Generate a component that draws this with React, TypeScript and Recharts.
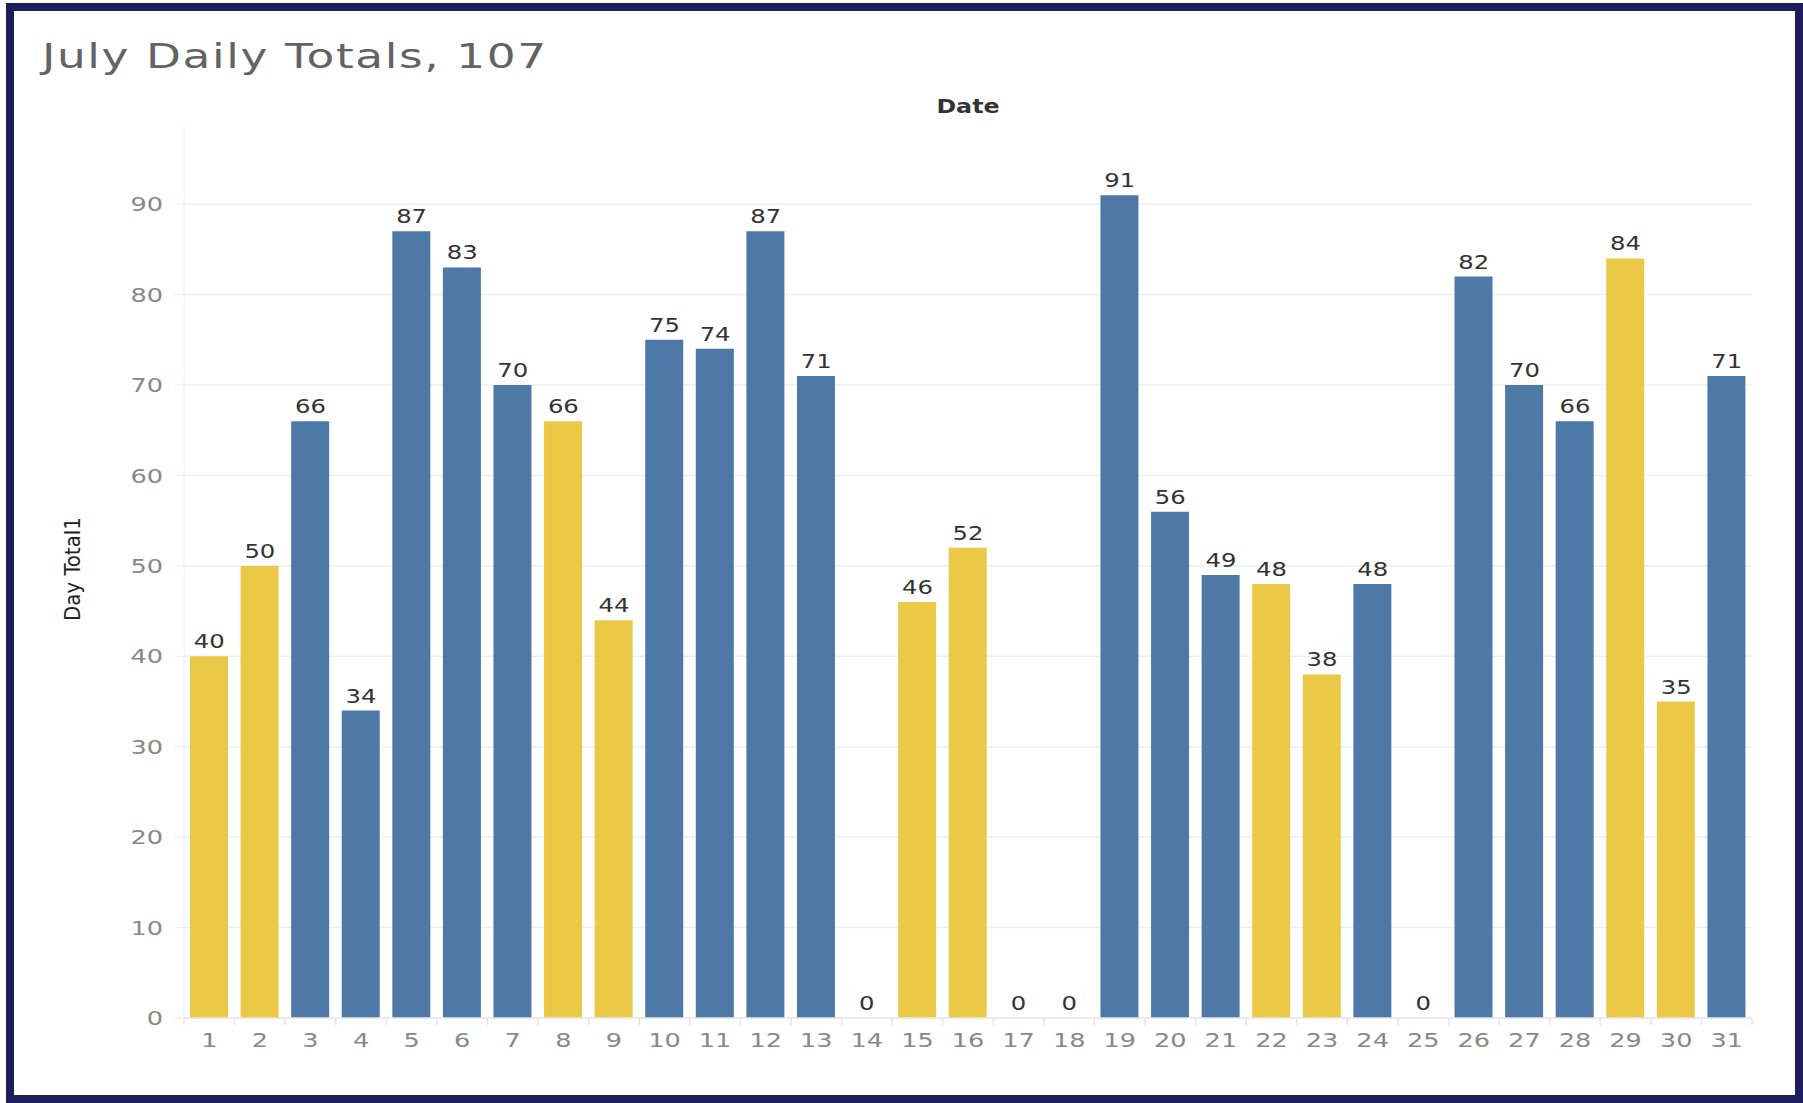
import { ComposedChart, Bar, Line, XAxis, YAxis, CartesianGrid, Cell, LabelList } from 'recharts';

// July, one bar per day; weekends in yellow
const DAYS = [
  '1', '2', '3', '4', '5', '6', '7', '8', '9', '10', '11', '12', '13', '14', '15', '16',
  '17', '18', '19', '20', '21', '22', '23', '24', '25', '26', '27', '28', '29', '30', '31',
];
const TOTALS = [
  40, 50, 66, 34, 87, 83, 70, 66, 44, 75, 74, 87, 71, 0, 46, 52,
  0, 0, 91, 56, 49, 48, 38, 48, 0, 82, 70, 66, 84, 35, 71,
];
const WEEKEND = [
  true, true, false, false, false, false, false, true, true, false, false, false, false, false, true, true,
  false, false, false, false, false, true, true, false, false, false, false, false, true, true, false,
];
const Y_TICKS = [0, 10, 20, 30, 40, 50, 60, 70, 80, 90];
const Y_MAX = 99.2;

const BLUE = '#4e79a7';
const YELLOW = '#ebc846';
const FONT = '"DejaVu Sans", "Open Sans", sans-serif';
const STRETCH = 1.28; // the source text is drawn wide
const PLOT_TOP = 121;
const HALF_BAND = 1568 / 31 / 2;

const data = DAYS.map((day, i) => ({ day, total: TOTALS[i], weekend: WEEKEND[i] }));

function XTick(props: any) {
  const { x, y, payload, index } = props;
  return (
    <g>
      <line x1={x - HALF_BAND} x2={x - HALF_BAND} y1={y - 15} y2={y - 8} stroke="#e4e4e4" strokeWidth={1.5} />
      {index === DAYS.length - 1 && (
        <line x1={x + HALF_BAND} x2={x + HALF_BAND} y1={y - 15} y2={y - 8} stroke="#e4e4e4" strokeWidth={1.5} />
      )}
      <text
        transform={`translate(${x},${y}) scale(${STRETCH},1)`}
        dy="0.71em"
        textAnchor="middle"
        fill="#888"
        fontSize={20}
        fontFamily={FONT}
      >
        {payload.value}
      </text>
    </g>
  );
}

function YTick(props: any) {
  const { x, y, payload } = props;
  return (
    <text
      transform={`translate(${x},${y}) scale(${STRETCH},1)`}
      dy="0.355em"
      textAnchor="end"
      fill="#888"
      fontSize={20}
      fontFamily={FONT}
    >
      {payload.value}
    </text>
  );
}

function ValueLabel(props: any) {
  const { x, y, value } = props;
  return (
    <text
      transform={`translate(${x},${y - 8}) scale(${STRETCH},1)`}
      textAnchor="middle"
      fill="#333"
      fontSize={19}
      fontFamily={FONT}
    >
      {value}
    </text>
  );
}

// skip any grid line sitting on the top edge of the plot
function GridRow(p: any) {
  if (p.y1 < PLOT_TOP + 2) return <g key={p.key} />;
  return <line key={p.key} x1={p.x1} x2={p.x2} y1={p.y1} y2={p.y2} stroke="#efefef" strokeWidth={1.5} />;
}

export default function App() {
  return (
    <div style={{ position: 'absolute', left: 0, top: 0, width: 1803, height: 1103, background: '#fff', overflow: 'hidden' }}>
      <div
        style={{
          position: 'absolute',
          left: 6,
          top: 3,
          width: 1797,
          height: 1100,
          boxSizing: 'border-box',
          border: '8px solid #1e1d5c',
        }}
      />
      <div
        style={{
          position: 'absolute',
          left: 42,
          top: 36,
          fontFamily: FONT,
          fontSize: 34,
          letterSpacing: 1.2,
          color: '#636363',
          whiteSpace: 'nowrap',
          transform: 'scaleX(1.335)',
          transformOrigin: 'left top',
        }}
      >
        July Daily Totals, 107
      </div>
      <div
        style={{
          position: 'absolute',
          left: 918,
          top: 95,
          width: 100,
          textAlign: 'center',
          fontFamily: FONT,
          fontSize: 19,
          fontWeight: 'bold',
          color: '#333',
          transform: 'scaleX(1.25)',
        }}
      >
        Date
      </div>
      <div style={{ position: 'absolute', left: 0, top: 0 }}>
        <ComposedChart
          width={1803}
          height={1103}
          data={data}
          margin={{ top: PLOT_TOP, right: 51, bottom: 55, left: 124 }}
        >
          <CartesianGrid vertical={false} syncWithTicks horizontal={GridRow} />
          <XAxis
            dataKey="day"
            interval={0}
            height={30}
            tickLine={false}
            tickSize={6}
            tickMargin={9}
            axisLine={{ stroke: '#e8e8e8', strokeWidth: 1.5 }}
            tick={<XTick />}
          />
          <YAxis
            width={60}
            domain={[0, Y_MAX]}
            ticks={Y_TICKS}
            allowDataOverflow
            tickSize={10}
            tickMargin={11}
            tickLine={{ stroke: '#eee' }}
            axisLine={{ stroke: '#eee' }}
            tick={<YTick />}
            label={{
              content: () => (
                <text
                  x={80}
                  y={569}
                  transform="rotate(-90 80 569)"
                  textAnchor="middle"
                  fill="#222"
                  fontSize={22}
                  fontFamily='"Liberation Sans Narrow", "DejaVu Sans Condensed", sans-serif'
                >
                  Day Total1
                </text>
              ),
            }}
          />
          <Bar dataKey="total" barSize={38} isAnimationActive={false}>
            {data.map((d) => (
              <Cell key={d.day} fill={d.weekend ? YELLOW : BLUE} />
            ))}
          </Bar>
          {/* invisible line only carries the value labels, zeros included */}
          <Line
            dataKey="total"
            stroke="none"
            dot={false}
            activeDot={false}
            isAnimationActive={false}
          >
            <LabelList dataKey="total" content={<ValueLabel />} />
          </Line>
        </ComposedChart>
      </div>
    </div>
  );
}
